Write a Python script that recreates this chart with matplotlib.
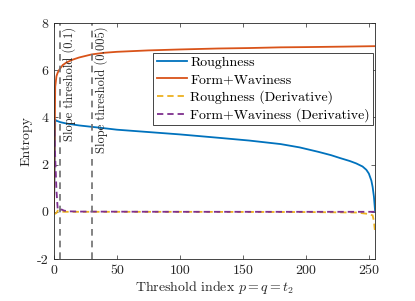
import matplotlib
matplotlib.use("Agg")
import matplotlib.pyplot as plt

plt.rcParams['font.family'] = ['cmr10', 'DejaVu Serif']
plt.rcParams['mathtext.fontset'] = 'cm'
plt.rcParams['axes.unicode_minus'] = False

# ---- data ----
rough_x = [0, 1, 2, 5, 10, 20, 37, 50, 75, 100, 130, 155, 180, 195, 210, 220, 227, 235, 240, 245, 248, 250, 252, 253, 254, 255]
rough_y = [0, 3.9, 3.86, 3.8, 3.74, 3.66, 3.56, 3.48, 3.38, 3.28, 3.14, 3.02, 2.87, 2.73, 2.54, 2.4, 2.28, 2.15, 2.05, 1.92, 1.78, 1.62, 1.32, 1.05, 0.65, 0.0]

fw_x = [0, 1, 2, 3, 4, 5, 7, 10, 15, 20, 30, 40, 50, 75, 100, 130, 155, 180, 200, 230, 255]
fw_y = [0, 5.3, 5.75, 5.9, 6.0, 6.08, 6.22, 6.33, 6.45, 6.54, 6.67, 6.74, 6.78, 6.84, 6.88, 6.92, 6.94, 6.97, 6.98, 7.0, 7.02]

drough_x = [0, 1, 2, 3, 5, 8, 12, 20, 100, 200, 240, 248, 250, 253, 254, 255]
drough_y = [-0.05, -0.08, -0.05, 0.05, 0.02, 0.0, 0.0, 0.0, 0.0, -0.01, -0.03, -0.08, -0.1, -0.15, -0.4, -0.9]

dfw_x = [0, 1, 2, 3, 4, 6, 8, 12, 20, 100, 200, 255]
dfw_y = [3.9, 2.3, 0.9, 0.1, 0.05, 0.1, 0.05, 0.02, 0.01, 0.0, 0.0, 0.0]

thresholds = [5, 30]
threshold_labels = ['Slope threshold (0.1)', 'Slope threshold (0.005)']
series_labels = ['Roughness', 'Form+Waviness', 'Roughness (Derivative)', 'Form+Waviness (Derivative)']

xticks = [0, 50, 100, 150, 200, 250]
yticks = [-2, 0, 2, 4, 6, 8]

# ---- figure ----
fig = plt.figure(figsize=(4.15, 3.01), dpi=100)
ax = fig.add_axes([0.130, 0.1395, 0.774, 0.784])

lw = 1.3
ax.plot(rough_x, rough_y, color='#0072BD', lw=lw, label=series_labels[0])
ax.plot(fw_x, fw_y, color='#D95319', lw=lw, label=series_labels[1])
ax.plot(drough_x, drough_y, color='#EDB120', lw=lw, dashes=(3.5, 2.2), label=series_labels[2])
ax.plot(dfw_x, dfw_y, color='#7E2F8E', lw=lw, dashes=(3.5, 2.2), label=series_labels[3])

fs = 10
for t, lab in zip(thresholds, threshold_labels):
    ax.axvline(t, color='#6e6e6e', lw=1.2, dashes=(4, 3))
    ax.text(t + 7.2, 7.85, lab, rotation=90, ha='center', va='top', fontsize=9, color='#262626')

ax.set_xlim(0, 255)
ax.set_ylim(-2, 8)
ax.set_xticks(xticks)
ax.set_yticks(yticks)
ax.set_xticklabels([str(v) for v in xticks])
ax.set_yticklabels([str(v) for v in yticks])
ax.tick_params(direction='in', length=3.2, width=0.5, top=True, right=True,
               labelsize=fs, colors='#262626', pad=4)
for s in ax.spines.values():
    s.set_linewidth(0.6)
    s.set_color('#262626')

ax.set_xlabel('Threshold index $p=q=t_2$', fontsize=fs, color='#262626', labelpad=2)
ax.set_ylabel('Entropy', fontsize=fs, color='#262626', labelpad=3)

leg = ax.legend(loc='upper right', bbox_to_anchor=(0.994, 0.873), borderaxespad=0,
                fontsize=fs, frameon=True, fancybox=False, edgecolor='#262626',
                framealpha=1, handlelength=2.2, handletextpad=0.2,
                labelspacing=0.3, borderpad=0.25)
leg.get_frame().set_linewidth(0.6)

fig.savefig('out.png', dpi=100)
